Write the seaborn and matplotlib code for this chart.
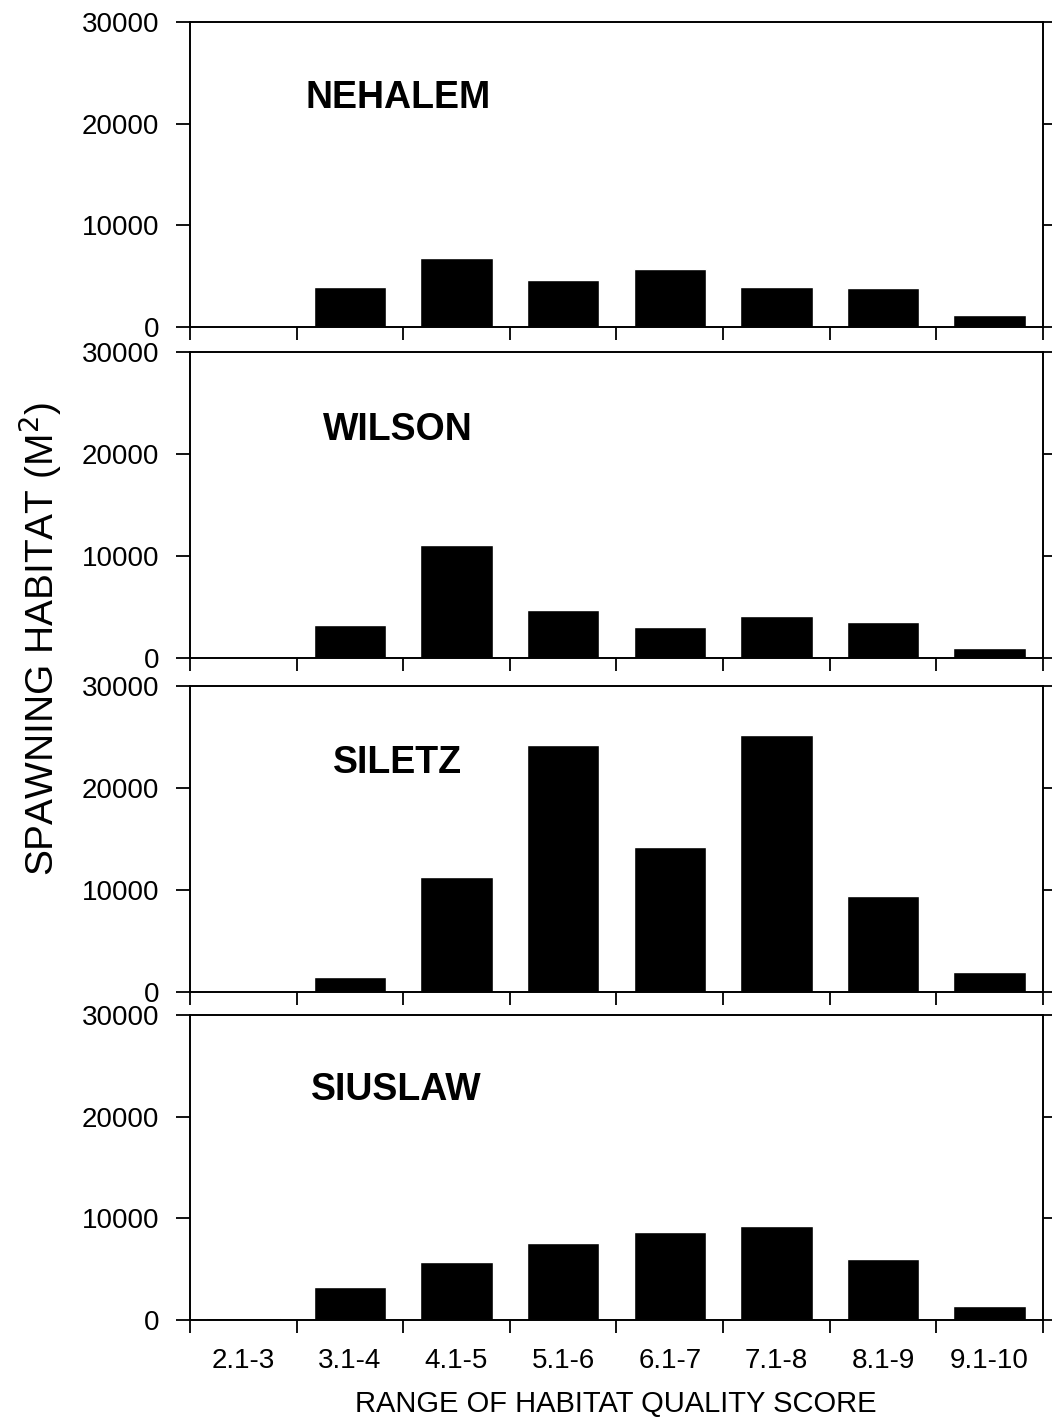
import seaborn as sns
import numpy as np
import matplotlib
matplotlib.use('Agg')
import matplotlib.pyplot as plt
from matplotlib.ticker import FixedLocator

# Style first, fonts after (set_style resets font.family)
sns.set_style('ticks')
plt.rcParams['font.family'] = ['Liberation Sans', 'DejaVu Sans']
plt.rcParams['text.color'] = 'black'
plt.rcParams['xtick.color'] = 'black'
plt.rcParams['ytick.color'] = 'black'
plt.rcParams['axes.labelcolor'] = 'black'

# Data
score_ranges = ['2.1-3', '3.1-4', '4.1-5', '5.1-6', '6.1-7', '7.1-8', '8.1-9', '9.1-10']
rivers = ['NEHALEM', 'WILSON', 'SILETZ', 'SIUSLAW']
nehalem = [100, 3900, 6800, 4600, 5700, 3900, 3800, 1200]
wilson = [0, 3200, 11100, 4700, 3000, 4100, 3500, 1000]
siletz = [0, 1500, 11300, 24200, 14200, 25200, 9400, 2000]
siuslaw = [200, 3200, 5700, 7600, 8700, 9200, 6000, 1400]
habitat = [nehalem, wilson, siletz, siuslaw]
label_pos = [(0.135, 0.75), (0.156, 0.745), (0.168, 0.748), (0.142, 0.754)]

fig = plt.figure(figsize=(10.52, 14.21), dpi=100)
# axes boxes (left, bottom, width, height) in figure fractions
left, width = 0.1806, 0.8108
boxes = [(0.7699, 0.2146), (0.5369, 0.2154), (0.3019, 0.2153), (0.0711, 0.2146)]

for i, (name, vals) in enumerate(zip(rivers, habitat)):
    bottom, height = boxes[i]
    ax = fig.add_axes([left, bottom, width, height])
    sns.barplot(x=score_ranges, y=vals, color='black', saturation=1,
                width=0.68, ax=ax)
    ax.set_xlim(-0.5, len(score_ranges) - 0.5)
    ax.set_ylim(0, 30000)
    ax.set_yticks([0, 10000, 20000, 30000])
    ax.set_yticklabels(['0', '10000', '20000', '30000'])
    # tick marks sit on the bin edges, labels at the bin centres
    ax.xaxis.set_minor_locator(FixedLocator(np.arange(-0.5, len(score_ranges), 1.0)))
    ax.tick_params(axis='x', which='major', length=0, pad=20, labelsize=20)
    ax.tick_params(axis='x', which='minor', length=9, width=1.3, direction='out')
    ax.tick_params(axis='y', which='major', length=10, width=1.3, pad=12,
                   labelsize=20, right=True, direction='out')
    ax.set_xlabel('')
    ax.set_ylabel('')
    if i < len(rivers) - 1:
        ax.set_xticklabels([])
    for sp in ax.spines.values():
        sp.set_visible(True)
        sp.set_linewidth(1.4)
        sp.set_color('black')
    ax.text(label_pos[i][0], label_pos[i][1], name, transform=ax.transAxes,
            fontsize=27, fontweight='bold', ha='left', va='center')

fig.text(0.5806 + 0.005, 0.002, 'RANGE OF HABITAT QUALITY SCORE', fontsize=21,
         ha='center', va='bottom')
fig.text(0.038, 0.55, r'SPAWNING HABITAT (M$^2$)', fontsize=28, rotation=90,
         ha='center', va='center')

fig.savefig('out.png', dpi=100, facecolor='white')
